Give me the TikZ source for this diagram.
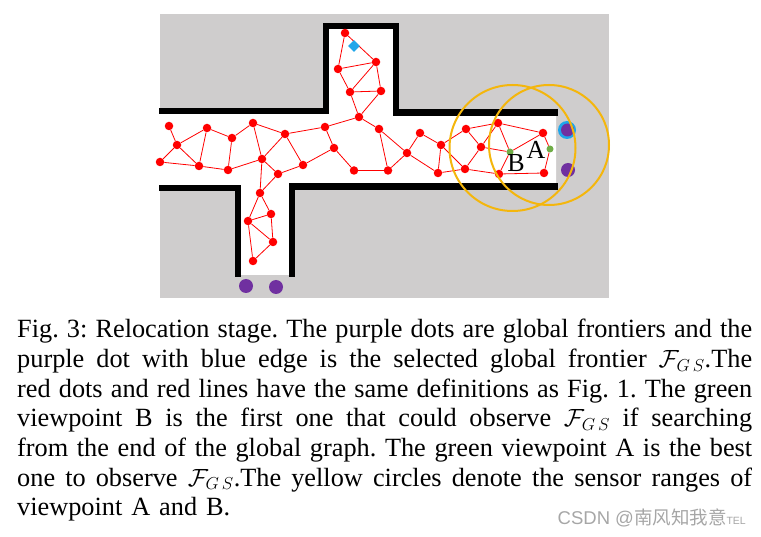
\documentclass[tikz,border=0pt]{standalone}
\usepackage{fontspec}
\setmainfont{Liberation Serif}
\newfontfamily\cjk{Noto Sans CJK SC}
\newfontfamily\wmfont{Liberation Sans}
\usetikzlibrary{shapes.geometric}
\definecolor{mapgray}{HTML}{CFCDCD}
\definecolor{rangeyellow}{HTML}{F4B60C}
\definecolor{frontierpurple}{HTML}{7030A0}
\definecolor{ringblue}{HTML}{1FA6EA}
\definecolor{viewgreen}{HTML}{70AD47}
\newcommand{\fgs}{$\mathcal{F}_{G\,S}$}
\begin{document}
\begin{tikzpicture}[x=1pt,y=-1pt]
        \tikzstyle{vertex}=[circle, fill=red, minimum size=8.5pt, inner sep=0pt]
        \tikzstyle{edge}=[red, line width=0.8pt]
        \tikzstyle{frontier}=[circle, fill=frontierpurple, minimum size=14pt, inner sep=0pt]
        \tikzstyle{viewpoint}=[circle, fill=viewgreen, minimum size=7pt, inner sep=0pt]
        \tikzstyle{wall}=[line width=6.5pt, line cap=butt, line join=miter]
        \tikzstyle{sensor}=[circle, draw=rangeyellow, line width=2pt, inner sep=0pt]
        \tikzstyle{tag}=[inner sep=0pt, font=\fontsize{26}{26}\selectfont]

        \useasboundingbox (0,0) rectangle (761,537);

        \fill[mapgray] (160,14) rectangle (609,298);
        \fill[white] (160,112) -- (326,112) -- (326,26) -- (396,26) -- (396,113) -- (556,113)
            -- (556,186.5) -- (292,186.5) -- (292,275) -- (238,275) -- (238,188) -- (160,188) -- cycle;

        \draw[wall] (159,111) -- (326,111) -- (326,26) -- (396,26) -- (396,112.5) -- (558,112.5);
        \draw[wall] (159,188) -- (238,188) -- (238,277);
        \draw[wall] (292,277) -- (292,186.5) -- (558,186.5);

        \node[vertex] (v1) at (345,33) {};
        \node[vertex] (v2) at (376,62) {};
        \node[vertex] (v3) at (338,69) {};
        \node[vertex] (v4) at (350,92) {};
        \node[vertex] (v5) at (381,91) {};
        \node[vertex] (v6) at (359,117) {};
        \node[vertex] (v7) at (379,129) {};
        \node[vertex] (v8) at (325,127) {};
        \node[vertex] (v9) at (334,148) {};
        \node[vertex] (v10) at (285,134) {};
        \node[vertex] (v11) at (253,123) {};
        \node[vertex] (v12) at (232,138) {};
        \node[vertex] (v13) at (207,128) {};
        \node[vertex] (v14) at (169,126) {};
        \node[vertex] (v15) at (177,145) {};
        \node[vertex] (v16) at (262,159) {};
        \node[vertex] (v17) at (160,162) {};
        \node[vertex] (v18) at (199,166) {};
        \node[vertex] (v19) at (228,170) {};
        \node[vertex] (v20) at (278,174) {};
        \node[vertex] (v21) at (303,165) {};
        \node[vertex] (v22) at (354,170.5) {};
        \node[vertex] (v23) at (388,170.5) {};
        \node[vertex] (v24) at (260,193) {};
        \node[vertex] (v25) at (271,214) {};
        \node[vertex] (v26) at (248,221) {};
        \node[vertex] (v27) at (273,242) {};
        \node[vertex] (v28) at (253,261) {};
        \node[vertex] (v29) at (407,153) {};
        \node[vertex] (v30) at (420,133) {};
        \node[vertex] (v31) at (441,145) {};
        \node[vertex] (v32) at (438,173) {};
        \node[vertex] (v33) at (465,169) {};
        \node[vertex] (v34) at (481,147) {};
        \node[vertex] (v35) at (466,129) {};
        \node[vertex] (v36) at (498,123) {};
        \node[vertex] (v37) at (543,133) {};
        \node[vertex] (v38) at (544,173) {};
        \node[vertex] (v39) at (499,174) {};
        \node[viewpoint] (vb) at (510,152) {};
        \node[viewpoint] (va) at (550,149) {};

        \draw[edge] (v1) -- (v3);
        \draw[edge] (v1) -- (v2);
        \draw[edge] (v2) -- (v3);
        \draw[edge] (v2) -- (v4);
        \draw[edge] (v2) -- (v5);
        \draw[edge] (v3) -- (v4);
        \draw[edge] (v4) -- (v5);
        \draw[edge] (v4) -- (v6);
        \draw[edge] (v5) -- (v6);
        \draw[edge] (v6) -- (v8);
        \draw[edge] (v6) -- (v7);
        \draw[edge] (v8) -- (v10);
        \draw[edge] (v8) -- (v9);
        \draw[edge] (v10) -- (v11);
        \draw[edge] (v11) -- (v12);
        \draw[edge] (v12) -- (v13);
        \draw[edge] (v13) -- (v15);
        \draw[edge] (v14) -- (v15);
        \draw[edge] (v10) -- (v16);
        \draw[edge] (v11) -- (v16);
        \draw[edge] (v12) -- (v19);
        \draw[edge] (v13) -- (v18);
        \draw[edge] (v15) -- (v17);
        \draw[edge] (v15) -- (v18);
        \draw[edge] (v17) -- (v18);
        \draw[edge] (v18) -- (v19);
        \draw[edge] (v19) -- (v16);
        \draw[edge] (v16) -- (v20);
        \draw[edge] (v16) -- (v24);
        \draw[edge] (v20) -- (v24);
        \draw[edge] (v20) -- (v21);
        \draw[edge] (v21) -- (v10);
        \draw[edge] (v21) -- (v9);
        \draw[edge] (v9) -- (v22);
        \draw[edge] (v22) -- (v23);
        \draw[edge] (v7) -- (v23);
        \draw[edge] (v7) -- (v29);
        \draw[edge] (v23) -- (v29);
        \draw[edge] (v29) -- (v30);
        \draw[edge] (v30) -- (v31);
        \draw[edge] (v29) -- (v32);
        \draw[edge] (v31) -- (v32);
        \draw[edge] (v32) -- (v33);
        \draw[edge] (v31) -- (v33);
        \draw[edge] (v31) -- (v35);
        \draw[edge] (v35) -- (v34);
        \draw[edge] (v34) -- (v33);
        \draw[edge] (v35) -- (v36);
        \draw[edge] (v34) -- (v36);
        \draw[edge] (v34) -- (vb);
        \draw[edge] (v36) -- (vb);
        \draw[edge] (v36) -- (v37);
        \draw[edge] (vb) -- (v37);
        \draw[edge] (vb) -- (v39);
        \draw[edge] (v33) -- (v39);
        \draw[edge] (v39) -- (v38);
        \draw[edge] (v38) -- (va);
        \draw[edge] (va) -- (v37);
        \draw[edge] (v24) -- (v25);
        \draw[edge] (v24) -- (v26);
        \draw[edge] (v25) -- (v26);
        \draw[edge] (v25) -- (v27);
        \draw[edge] (v26) -- (v27);
        \draw[edge] (v26) -- (v28);
        \draw[edge] (v27) -- (v28);

        \node[diamond, fill=ringblue, minimum size=12pt, inner sep=0pt] (goal) at (354,46) {};
        \node[frontier] (f1) at (246,286) {};
        \node[frontier] (f2) at (276,287) {};
        \node[circle, fill=ringblue, minimum size=18pt, inner sep=0pt] (ring) at (567,130) {};
        \node[frontier, minimum size=13pt] (fgs) at (567.5,130) {};
        \node[frontier] (f3) at (568,170) {};

        \node[sensor, minimum size=126pt] (rangeb) at (512.5,148) {};
        \node[sensor, minimum size=120pt] (rangea) at (549,145) {};

        \node[tag] (la) at (536,150) {A};
        \node[tag] (lb) at (516,163) {B};

        \node[anchor=north west, inner sep=0pt, text width=735pt, align=justify,
            font=\fontsize{26.3}{29.7}\selectfont] (caption) at (17,319) {\frenchspacing\spaceskip=.34em plus .2em minus .14em Fig. 3: Relocation stage. The purple dots are global frontiers and the\linebreak
purple dot with blue edge is the selected global frontier \fgs.The\linebreak
red dots and red lines have the same definitions as Fig. 1. The green\linebreak
viewpoint B is the first one that could observe \fgs{} if searching\linebreak
from the end of the global graph. The green viewpoint A is the best\linebreak
one to observe \fgs.The yellow circles denote the sensor ranges of\linebreak
viewpoint A and B.};

        \node[anchor=base east, inner sep=0pt, text=black!35, font=\wmfont\fontsize{18.5}{18.5}\selectfont] (mark) at (746,524)
            {CSDN @{\cjk 南风知我意}{\fontsize{10.5}{10.5}\selectfont TEL}};
\end{tikzpicture}
\end{document}
